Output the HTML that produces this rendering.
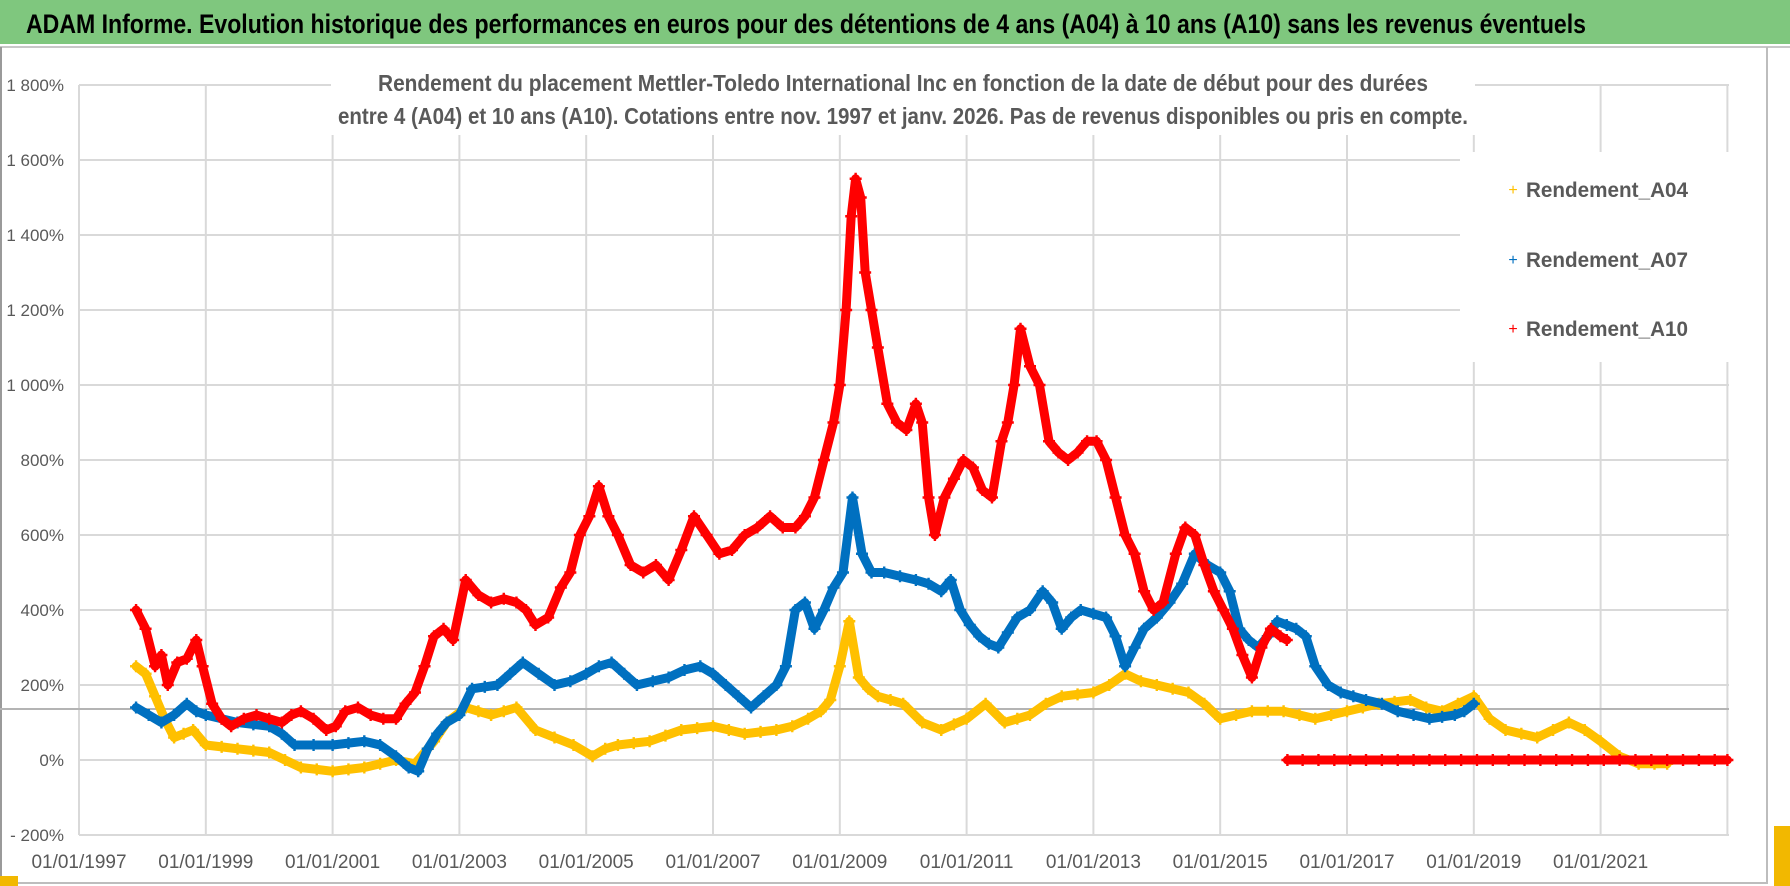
<!DOCTYPE html>
<html><head><meta charset="utf-8"><style>
html,body{margin:0;padding:0;background:#fff;}
svg{display:block;font-family:"Liberation Sans Narrow","Liberation Sans",sans-serif;}
</style></head><body>
<svg id="chart" width="1790" height="886" viewBox="0 0 1790 886" xmlns="http://www.w3.org/2000/svg">
<rect x="0" y="0" width="1790" height="886" fill="#fff"/>
<rect x="0" y="0" width="1790" height="44" fill="#7fc77e"/>
<line x1="0" y1="47" x2="1790" y2="47" stroke="#c8c8c8" stroke-width="2"/>
<text x="26" y="33" font-size="27" font-weight="bold" fill="#000" textLength="1560" lengthAdjust="spacingAndGlyphs">ADAM Informe. Evolution historique des performances en euros pour des détentions de 4 ans (A04) à 10 ans (A10) sans les revenus éventuels</text>
<line x1="1" y1="47" x2="1" y2="884" stroke="#9a9a9a" stroke-width="2"/>
<line x1="0" y1="883" x2="1768" y2="883" stroke="#bdbdbd" stroke-width="2"/>
<line x1="1767" y1="47" x2="1767" y2="884" stroke="#bdbdbd" stroke-width="2"/>
<rect x="0" y="876" width="18" height="10" fill="#f2b800"/>
<rect x="1774" y="826" width="16" height="60" fill="#f2b800"/>
<g id="grid"></g>
<g id="yticks"></g>
<g id="xticks"></g>
<line id="refline" stroke="#b4b4b4" stroke-width="2"/>
<g id="series"></g>
<rect x="331" y="56" width="1144" height="79" fill="#fff"/>
<text x="903" y="91" text-anchor="middle" font-size="23" font-weight="bold" fill="#595959" textLength="1050" lengthAdjust="spacingAndGlyphs">Rendement du placement Mettler-Toledo International Inc en fonction de la date de début pour des durées</text>
<text x="903" y="124" text-anchor="middle" font-size="23" font-weight="bold" fill="#595959" textLength="1130" lengthAdjust="spacingAndGlyphs">entre 4 (A04) et 10 ans (A10).  Cotations entre nov. 1997 et janv. 2026. Pas de revenus disponibles ou pris en compte.</text>
<rect x="1460" y="152" width="300" height="210" fill="#fff"/>
<g>
<text x="1513" y="195" text-anchor="middle" font-size="16" fill="#ffc000">+</text>
<text x="1526" y="197" font-size="21" font-weight="bold" fill="#595959" textLength="162" lengthAdjust="spacingAndGlyphs">Rendement_A04</text></g>
<g>
<text x="1513" y="265" text-anchor="middle" font-size="16" fill="#0070c0">+</text>
<text x="1526" y="267" font-size="21" font-weight="bold" fill="#595959" textLength="162" lengthAdjust="spacingAndGlyphs">Rendement_A07</text></g>
<g>
<text x="1513" y="334" text-anchor="middle" font-size="16" fill="#ff0000">+</text>
<text x="1526" y="336" font-size="21" font-weight="bold" fill="#595959" textLength="162" lengthAdjust="spacingAndGlyphs">Rendement_A10</text></g>
</svg>
<script>
const yTickValues=[-200,0,200,400,600,800,1000,1200,1400,1600,1800];
const yTickLabels=["- 200%","0%","200%","400%","600%","800%","1 000%","1 200%","1 400%","1 600%","1 800%"];
const xTickYears=[1997,1999,2001,2003,2005,2007,2009,2011,2013,2015,2017,2019,2021];
const xTickLabels=["01/01/1997","01/01/1999","01/01/2001","01/01/2003","01/01/2005","01/01/2007","01/01/2009","01/01/2011","01/01/2013","01/01/2015","01/01/2017","01/01/2019","01/01/2021"];
const refValue=136;
const a04Dates=[1997.9,1998.05,1998.2,1998.35,1998.5,1998.65,1998.8,1999.0,1999.25,1999.5,1999.75,2000.0,2000.25,2000.5,2000.75,2001.0,2001.25,2001.5,2001.75,2002.0,2002.3,2002.6,2002.8,2003.1,2003.3,2003.5,2003.7,2003.9,2004.2,2004.5,2004.8,2005.1,2005.3,2005.5,2005.75,2006.0,2006.25,2006.5,2006.75,2007.0,2007.25,2007.5,2007.75,2008.0,2008.25,2008.5,2008.7,2008.85,2009.0,2009.15,2009.3,2009.45,2009.6,2009.8,2010.0,2010.3,2010.6,2010.8,2011.0,2011.3,2011.6,2011.8,2012.0,2012.25,2012.5,2012.75,2013.0,2013.25,2013.5,2013.75,2014.0,2014.25,2014.5,2014.75,2015.0,2015.25,2015.5,2015.75,2016.0,2016.25,2016.5,2016.75,2017.0,2017.25,2017.5,2017.75,2018.0,2018.25,2018.5,2018.75,2019.0,2019.25,2019.5,2019.75,2020.0,2020.25,2020.5,2020.75,2021.0,2021.3,2021.6,2021.85,2022.05];
const a04Values=[250,230,170,110,60,70,80,40,35,30,25,20,0,-20,-25,-30,-25,-20,-10,0,-10,50,100,140,130,120,130,140,80,60,40,10,30,40,45,50,65,80,85,90,80,70,75,80,90,110,130,160,250,370,220,190,170,160,150,100,80,95,110,150,100,110,120,150,170,175,180,200,230,210,200,190,180,150,110,120,130,130,130,120,110,120,130,140,150,155,160,140,130,150,170,110,80,70,60,80,100,80,50,10,-10,-10,-10];
const a07Dates=[1997.9,1998.1,1998.3,1998.5,1998.7,1998.85,1999.0,1999.25,1999.5,1999.75,2000.0,2000.2,2000.4,2000.7,2001.0,2001.25,2001.5,2001.75,2002.0,2002.2,2002.35,2002.5,2002.65,2002.8,2003.0,2003.2,2003.4,2003.6,2003.8,2004.0,2004.25,2004.5,2004.75,2005.0,2005.2,2005.4,2005.6,2005.8,2006.05,2006.3,2006.55,2006.8,2007.0,2007.2,2007.4,2007.6,2007.8,2008.0,2008.15,2008.3,2008.45,2008.6,2008.75,2008.9,2009.05,2009.2,2009.35,2009.5,2009.7,2009.95,2010.2,2010.4,2010.6,2010.75,2010.9,2011.05,2011.2,2011.35,2011.5,2011.65,2011.8,2012.0,2012.2,2012.35,2012.5,2012.65,2012.8,2013.0,2013.2,2013.35,2013.5,2013.65,2013.8,2014.0,2014.2,2014.4,2014.6,2014.8,2015.0,2015.15,2015.3,2015.45,2015.6,2015.75,2015.9,2016.05,2016.2,2016.35,2016.5,2016.7,2016.9,2017.1,2017.3,2017.55,2017.8,2018.05,2018.3,2018.5,2018.7,2018.85,2019.0];
const a07Values=[140,120,100,120,150,130,120,110,100,95,90,70,40,40,40,45,50,40,10,-20,-30,30,70,100,120,190,195,200,230,260,230,200,210,230,250,260,230,200,210,220,240,250,230,200,170,140,170,200,250,400,420,350,400,460,500,700,550,500,500,490,480,470,450,480,400,360,330,310,300,340,380,400,450,420,350,380,400,390,380,330,250,300,350,380,420,470,550,520,500,450,350,320,300,330,370,360,350,330,250,200,180,170,160,150,130,120,110,115,120,130,150];
const a10Dates=[1997.9,1998.05,1998.2,1998.3,1998.4,1998.55,1998.7,1998.85,1998.95,1999.1,1999.25,1999.4,1999.6,1999.8,2000.0,2000.2,2000.35,2000.5,2000.7,2000.9,2001.05,2001.2,2001.4,2001.6,2001.8,2002.0,2002.15,2002.3,2002.45,2002.6,2002.75,2002.9,2003.1,2003.3,2003.5,2003.7,2003.9,2004.05,2004.2,2004.4,2004.6,2004.75,2004.9,2005.05,2005.2,2005.35,2005.5,2005.7,2005.9,2006.1,2006.3,2006.5,2006.7,2006.9,2007.1,2007.3,2007.5,2007.7,2007.9,2008.1,2008.3,2008.45,2008.6,2008.75,2008.9,2009.0,2009.1,2009.18,2009.25,2009.33,2009.4,2009.5,2009.6,2009.75,2009.9,2010.05,2010.2,2010.3,2010.4,2010.5,2010.65,2010.8,2010.95,2011.1,2011.25,2011.4,2011.55,2011.65,2011.75,2011.85,2012.0,2012.15,2012.3,2012.45,2012.6,2012.75,2012.9,2013.05,2013.2,2013.35,2013.5,2013.65,2013.8,2013.95,2014.1,2014.3,2014.45,2014.6,2014.75,2014.9,2015.05,2015.2,2015.35,2015.5,2015.65,2015.8,2015.95,2016.05];
const a10Values=[400,350,250,280,200,260,270,320,250,150,110,90,110,120,110,100,120,130,110,80,90,130,140,120,110,110,150,180,250,330,350,320,480,440,420,430,420,400,360,380,460,500,600,650,730,650,600,520,500,520,480,560,650,600,550,560,600,620,650,620,620,650,700,800,900,1000,1200,1450,1550,1500,1300,1200,1100,950,900,880,950,900,700,600,700,750,800,780,720,700,850,900,1000,1150,1050,1000,850,820,800,820,850,850,800,700,600,550,450,400,420,550,620,600,520,450,400,350,280,220,300,350,330,320];
const a10ZeroDates=[2016.06,2016.3,2016.55,2016.8,2017.05,2017.3,2017.55,2017.8,2018.05,2018.3,2018.55,2018.8,2019.05,2019.3,2019.55,2019.8,2020.05,2020.3,2020.55,2020.8,2021.05,2021.3,2021.55,2021.8,2022.05,2022.3,2022.55,2022.8,2023.0];
const a10ZeroValues=[0,0,0,0,0,0,0,0,0,0,0,0,0,0,0,0,0,0,0,0,0,0,0,0,0,0,0,0,0];

const NS="http://www.w3.org/2000/svg";
const X0=79,PXY=63.4,Y0=760,PXV=0.375,XL=79,XR=1729;
function xs(y){return X0+(y-1997)*PXY;}
function ys(v){return Y0-v*PXV;}
function mk(tag,attrs,parent){const e=document.createElementNS(NS,tag);for(const k in attrs)e.setAttribute(k,attrs[k]);parent.appendChild(e);return e;}
const grid=document.getElementById('grid');
yTickValues.forEach((v,i)=>{
  const l=mk('line',{x1:XL,x2:XR,y1:ys(v),y2:ys(v),stroke:'#d9d9d9','stroke-width':2},grid);
  
  
  const t=mk('text',{x:64,y:ys(v)+6,'text-anchor':'end','font-size':17,fill:'#595959'},document.getElementById('yticks'));
  t.textContent=yTickLabels[i];
  
  
});
xTickYears.forEach((yr,i)=>{
  const l=mk('line',{x1:xs(yr),x2:xs(yr),y1:ys(1800),y2:ys(-200),stroke:'#d9d9d9','stroke-width':2},grid);
  
  
  const t=mk('text',{x:xs(yr),y:868,'text-anchor':'middle','font-size':19,fill:'#595959'},document.getElementById('xticks'));
  t.textContent=xTickLabels[i];
  
  
});
[2023].forEach(yr=>{const l=mk('line',{x1:xs(yr),x2:xs(yr),y1:ys(1800),y2:ys(-200),stroke:'#d9d9d9','stroke-width':2},grid);
  
  });
const rl=document.getElementById('refline');
rl.setAttribute('x1',0);rl.setAttribute('x2',XR);rl.setAttribute('y1',ys(refValue));rl.setAttribute('y2',ys(refValue));
const layer=document.getElementById('series');
function series(dates,vals,color,name){
  const g=mk('g',{},layer);
  
  
  const pts=dates.map((d,i)=>xs(d).toFixed(1)+','+ys(vals[i]).toFixed(1)).join(' ');
  const pl=mk('polyline',{points:pts,fill:'none',stroke:color,'stroke-width':9,'stroke-linejoin':'round','stroke-linecap':'round'},g);
  
  
  dates.forEach((d,i)=>{
    const x=xs(d),y=ys(vals[i]);
    const p=mk('path',{d:`M${x-6},${y}H${x+6}M${x},${y-6}V${y+6}`,stroke:color,'stroke-width':2.4},g);
    
    
  });
}
series(a04Dates,a04Values,'#ffc000','series-a04');
series(a07Dates,a07Values,'#0070c0','series-a07');
series(a10Dates,a10Values,'#ff0000','series-a10');
series(a10ZeroDates,a10ZeroValues,'#ff0000','series-a10-zero');
</script>
</body></html>
